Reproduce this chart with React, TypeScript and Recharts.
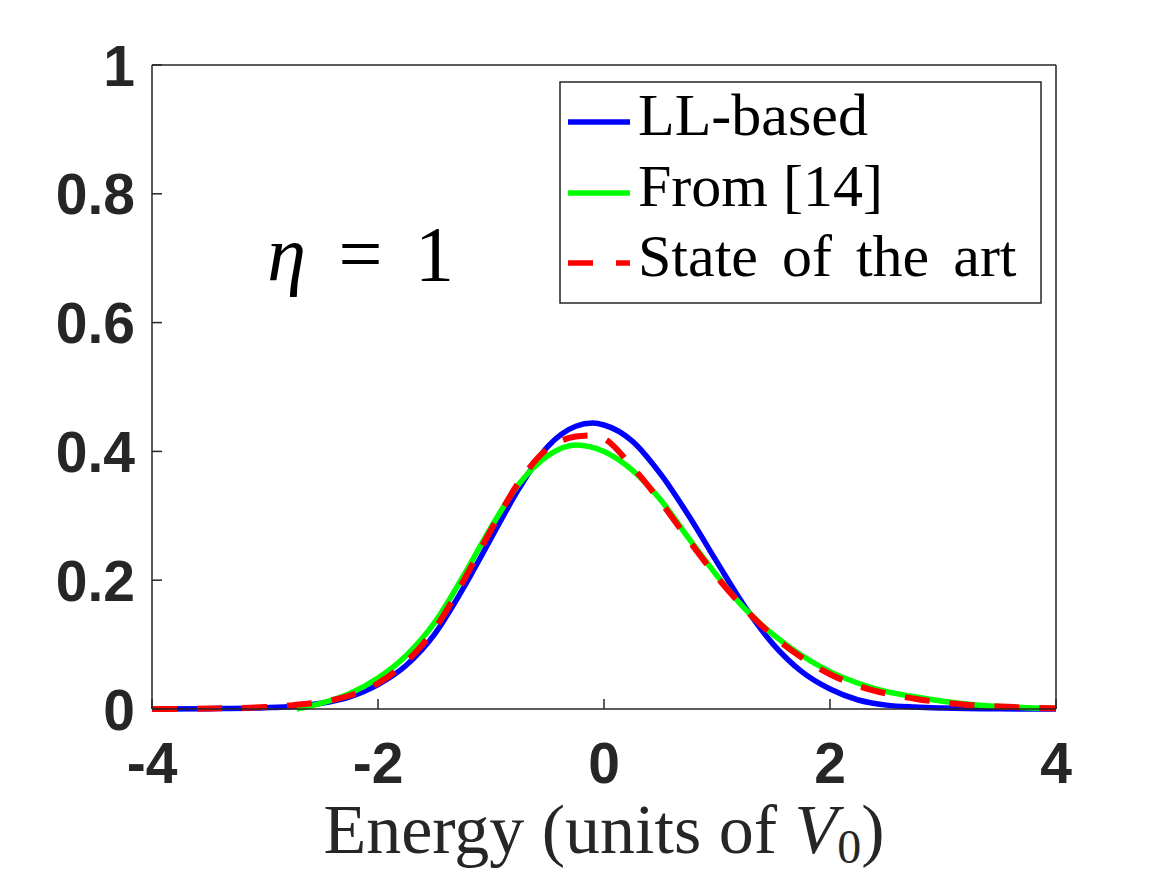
import React from "react";
import {
  LineChart,
  Line,
  XAxis,
  YAxis,
  Legend,
  ReferenceDot,
  Label,
} from "recharts";

// LL-based curve
const llX = [-4, -3.5, -3, -2.75, -2.5, -2.25, -2, -1.75, -1.5, -1.25, -1, -0.75, -0.5, -0.25, -0.1, 0, 0.25, 0.5, 0.75, 1, 1.25, 1.5, 1.75, 2, 2.25, 2.5, 2.75, 3, 3.5, 4];
const llY = [0, 0.0005, 0.002, 0.004, 0.009, 0.019, 0.038, 0.068, 0.116, 0.186, 0.265, 0.343, 0.407, 0.439, 0.444, 0.441, 0.416, 0.365, 0.3, 0.228, 0.158, 0.1, 0.058, 0.031, 0.014, 0.006, 0.003, 0.0015, 0.0003, 0];

// From [14]
const refX = [-2.72, -2.5, -2.25, -2, -1.75, -1.5, -1.25, -1, -0.75, -0.5, -0.25, 0, 0.25, 0.5, 0.75, 1, 1.25, 1.5, 1.75, 2, 2.25, 2.5, 2.75, 3, 3.25, 3.5, 3.75, 4];
const refY = [0, 0.009, 0.024, 0.048, 0.083, 0.134, 0.205, 0.282, 0.35, 0.393, 0.41, 0.4, 0.371, 0.325, 0.265, 0.207, 0.155, 0.115, 0.083, 0.058, 0.04, 0.027, 0.019, 0.012, 0.007, 0.004, 0.002, 0.001];

// State of the art
const sotaX = [-4, -3.5, -3, -2.75, -2.5, -2.25, -2, -1.75, -1.5, -1.25, -1, -0.75, -0.5, -0.25, -0.1, 0, 0.25, 0.5, 0.75, 1, 1.25, 1.5, 1.75, 2, 2.25, 2.5, 2.75, 3, 3.25, 3.5, 3.75, 4];
const sotaY = [0, 0.0007, 0.003, 0.006, 0.011, 0.021, 0.04, 0.073, 0.124, 0.197, 0.278, 0.353, 0.404, 0.423, 0.425, 0.42, 0.376, 0.322, 0.262, 0.205, 0.155, 0.113, 0.08, 0.054, 0.036, 0.024, 0.016, 0.01, 0.006, 0.004, 0.002, 0.001];

const xTicks = [-4, -2, 0, 2, 4];
const yTicks = [0, 0.2, 0.4, 0.6, 0.8, 1];

const toPoints = (xs: number[], ys: number[]) => xs.map((x, i) => ({ x, y: ys[i] }));

const series = [
  { name: "LL-based", color: "#0000ff", dash: undefined, data: toPoints(llX, llY), wordGap: 0 },
  { name: "From [14]", color: "#00ff00", dash: undefined, data: toPoints(refX, refY), wordGap: 0 },
  { name: "State of the art", color: "#ff0000", dash: "25 20", data: toPoints(sotaX, sotaY), wordGap: 9 },
];

const AXIS = "#262626";
const tickFont = { fontFamily: "'Liberation Sans', Arial, sans-serif", fontWeight: 700, fontSize: 57, fill: AXIS };
const serif = "'Liberation Serif', 'Times New Roman', serif";

const XTick = (props: any) => {
  const { x, y, payload } = props;
  return (
    <text x={x} y={y} dy="0.72em" textAnchor="middle" {...tickFont}>
      {payload.value}
    </text>
  );
};

const YTick = (props: any) => {
  const { x, y, payload } = props;
  return (
    <text x={x} y={y} dy="0.36em" textAnchor="end" {...tickFont}>
      {payload.value}
    </text>
  );
};

const renderLegend = (props: any) => {
  const { payload } = props;
  const rows = [41, 112, 182];
  return (
    <svg width={484} height={224} style={{ display: "block" }}>
      <rect x={1} y={1} width={481} height={221} fill="#fff" stroke={AXIS} strokeWidth={1.5} />
      {series.map((s, i) => {
        const entry = (payload || []).find((p: any) => p.value === s.name);
        const ly = rows[i];
        return (
          <g key={`item-${i}`}>
            <line x1={9} x2={71} y1={ly} y2={ly} stroke={entry ? entry.color : s.color} strokeWidth={5.5} strokeDasharray={s.dash ? "25 23" : undefined} />
            <text x={79} y={ly + 13} fontFamily={serif} fontSize={60} fill="#000" wordSpacing={s.wordGap}>
              {entry ? entry.value : s.name}
            </text>
          </g>
        );
      })}
    </svg>
  );
};

const EtaLabel = (props: any) => {
  const { viewBox } = props;
  return (
    <text x={viewBox.x} y={viewBox.y} fontFamily={serif} fontSize={78} fill="#000" wordSpacing={13}>
      <tspan fontStyle="italic">η</tspan>
      <tspan> = 1</tspan>
    </text>
  );
};

const XLabel = (props: any) => {
  const { viewBox } = props;
  const cx = viewBox.x + viewBox.width / 2;
  return (
    <text x={cx} y={viewBox.y + 144} textAnchor="middle" fontFamily={serif} fontSize={70} fill={AXIS}>
      <tspan>Energy (units of </tspan>
      <tspan fontStyle="italic">V</tspan>
      <tspan fontSize={48} dy={10}>0</tspan>
      <tspan dy={-10}>)</tspan>
    </text>
  );
};

const App = () => {
  return (
    <LineChart width={1151} height={866} margin={{ top: 56, right: 102, bottom: 105, left: 44 }}>
      <XAxis
        dataKey="x"
        type="number"
        domain={[-4, 4]}
        ticks={xTicks}
        allowDataOverflow
        height={60}
        stroke={AXIS}
        strokeWidth={1.5}
        tickSize={-10}
        tickMargin={43}
        tick={<XTick />}
      >
        <Label content={<XLabel />} />
      </XAxis>
      <XAxis
        xAxisId="top"
        orientation="top"
        type="number"
        domain={[-4, 4]}
        ticks={xTicks}
        allowDataOverflow
        height={1}
        stroke={AXIS}
        strokeWidth={1.5}
        tickSize={-10}
        tick={() => <g />}
      />
      <YAxis
        type="number"
        domain={[0, 1]}
        ticks={yTicks}
        width={100}
        stroke={AXIS}
        strokeWidth={1.5}
        tickSize={-10}
        tickMargin={27}
        tick={<YTick />}
      />
      <YAxis
        yAxisId="right"
        orientation="right"
        type="number"
        domain={[0, 1]}
        ticks={yTicks}
        width={1}
        stroke={AXIS}
        strokeWidth={1.5}
        tickSize={-10}
        tick={() => <g />}
      />
      {series.map((s) => (
        <Line
          key={s.name}
          data={s.data}
          dataKey="y"
          name={s.name}
          type="monotone"
          stroke={s.color}
          strokeWidth={s.dash ? 6 : 5.5}
          strokeDasharray={s.dash}
          dot={false}
          activeDot={false}
          isAnimationActive={false}
        />
      ))}
      <ReferenceDot x={-2.98} y={0.666} r={0} stroke="none" fill="none" label={<EtaLabel />} />
      <Legend
        layout="vertical"
        align="center"
        verticalAlign="middle"
        wrapperStyle={{ top: 73, left: 551, width: 484, height: 224 }}
        content={renderLegend}
      />
    </LineChart>
  );
};

export default App;
